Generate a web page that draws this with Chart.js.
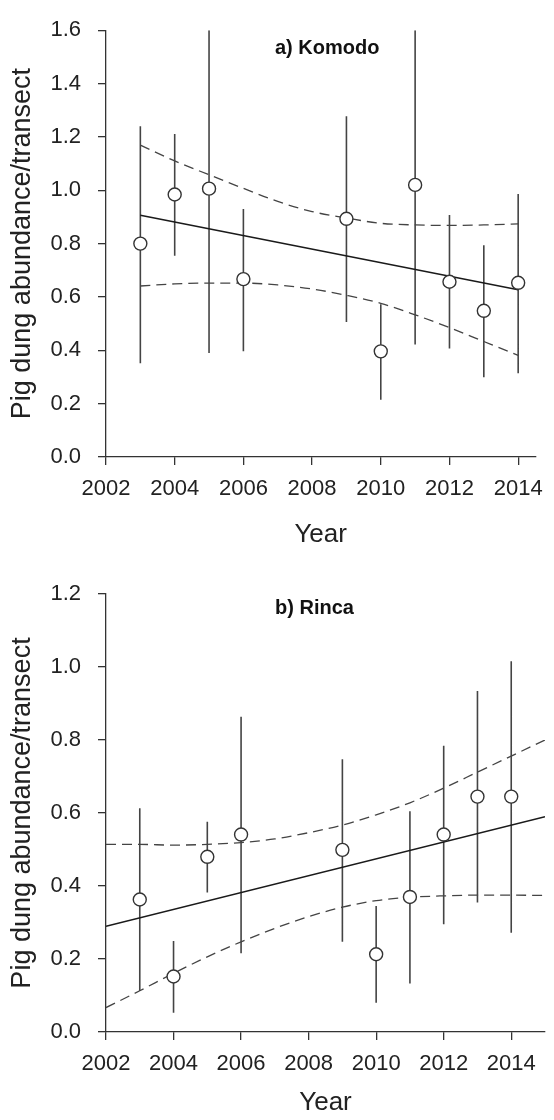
<!DOCTYPE html>
<html>
<head>
<meta charset="utf-8">
<title>Pig dung abundance</title>
<script src="https://cdn.jsdelivr.net/npm/chart.js@4.4.0/dist/chart.umd.min.js"></script>
<style>
  html, body { margin: 0; padding: 0; background: #fff; }
  .panel { position: relative; width: 554px; height: 560px; }
  canvas { display: block; }
</style>
</head>
<body>
<div class="panel"><canvas id="komodoChart" width="554" height="560"></canvas></div>
<div class="panel"><canvas id="rincaChart" width="554" height="560"></canvas></div>
<script>
// 调查年份
const years = [2003, 2004, 2005, 2006, 2009, 2010, 2011, 2012, 2013, 2014];

// a) Komodo
const komodoMean = [0.800, 0.984, 1.006, 0.667, 0.893, 0.396, 1.020, 0.657, 0.548, 0.653];
const komodoLow  = [0.351, 0.754, 0.390, 0.396, 0.506, 0.215, 0.422, 0.407, 0.299, 0.314];
const komodoHigh = [1.240, 1.211, 1.600, 0.930, 1.277, 0.573, 1.600, 0.907, 0.794, 0.986];
const komodoFitYears = [2003, 2014];
const komodoFit = [0.906, 0.627];
const komodoBandYears = [2003, 2004, 2005, 2006, 2007, 2008, 2009, 2010, 2011, 2012, 2013, 2014];
const komodoUpper = [1.169, 1.110, 1.058, 1.007, 0.958, 0.920, 0.896, 0.876, 0.870, 0.868, 0.870, 0.874];
const komodoLower = [0.641, 0.649, 0.652, 0.652, 0.645, 0.630, 0.606, 0.576, 0.533, 0.485, 0.433, 0.381];

// b) Rinca
const rincaMean = [0.363, 0.152, 0.480, 0.541, 0.499, 0.213, 0.370, 0.541, 0.645, 0.645];
const rincaLow  = [0.112, 0.053, 0.382, 0.216, 0.247, 0.080, 0.133, 0.295, 0.355, 0.272];
const rincaHigh = [0.613, 0.249, 0.576, 0.864, 0.747, 0.345, 0.605, 0.784, 0.934, 1.016];
const rincaFitYears = [2002, 2015];
const rincaFit = [0.290, 0.590];
const rincaBandYears = [2002, 2003, 2004, 2005, 2006, 2007, 2008, 2009, 2010, 2011, 2012, 2013, 2014, 2015];
const rincaUpper = [0.514, 0.514, 0.512, 0.514, 0.519, 0.529, 0.546, 0.567, 0.595, 0.628, 0.668, 0.712, 0.756, 0.800];
const rincaLower = [0.067, 0.113, 0.161, 0.206, 0.247, 0.284, 0.316, 0.342, 0.360, 0.369, 0.373, 0.375, 0.375, 0.374];

const FONT = "'Liberation Sans', Arial, Helvetica, sans-serif";
const INK = '#333';

Chart.defaults.font.family = FONT;
Chart.defaults.color = '#222';

/**
 * 面板标题 (a) Komodo / b) Rinca)
 */
const panelLabel = {
    id: 'panelLabel',
    afterDraw(chart, args, opts) {
        const { ctx, chartArea } = chart;
        ctx.save();
        ctx.font = 'bold 20px ' + FONT;
        ctx.fillStyle = '#111';
        ctx.textBaseline = 'middle';
        ctx.textAlign = 'left';
        ctx.fillText(opts.text, chartArea.left + opts.dx, chartArea.top + opts.dy);
        ctx.restore();
    }
};

function xy(xs, ys) {
    return xs.map((x, i) => ({ x: x, y: ys[i] }));
}

// 误差线: 每年一段竖线, 中间用 null 断开
function errorBars(xs, lo, hi) {
    const pts = [];
    xs.forEach((x, i) => {
        pts.push({ x: x, y: lo[i] }, { x: x, y: hi[i] }, { x: x, y: null });
    });
    return pts;
}

/**
 * 画一个面板
 */
function renderPanel(canvasId, p) {
    const ctx = document.getElementById(canvasId).getContext('2d');
    return new Chart(ctx, {
        type: 'scatter',
        data: {
            datasets: [
                {
                    data: xy(years, p.mean),
                    showLine: false,
                    pointRadius: 6.5,
                    pointBackgroundColor: '#fff',
                    pointBorderColor: INK,
                    pointBorderWidth: 1.4,
                    order: 0
                },
                {
                    data: xy(p.fitYears, p.fit),
                    showLine: true,
                    borderColor: '#1a1a1a',
                    borderWidth: 1.5,
                    pointRadius: 0,
                    order: 1
                },
                {
                    data: xy(p.bandYears, p.upper),
                    showLine: true,
                    borderColor: '#444',
                    borderWidth: 1.3,
                    borderDash: [10, 6],
                    cubicInterpolationMode: 'monotone',
                    pointRadius: 0,
                    order: 2
                },
                {
                    data: xy(p.bandYears, p.lower),
                    showLine: true,
                    borderColor: '#444',
                    borderWidth: 1.3,
                    borderDash: [10, 6],
                    cubicInterpolationMode: 'monotone',
                    pointRadius: 0,
                    order: 2
                },
                {
                    data: errorBars(years, p.low, p.high),
                    showLine: true,
                    spanGaps: false,
                    borderColor: '#444',
                    borderWidth: 1.6,
                    pointRadius: 0,
                    order: 3
                }
            ]
        },
        options: {
            responsive: false,
            animation: false,
            events: [],
            layout: { padding: { top: p.top, right: 9, bottom: 0, left: 0 } },
            plugins: {
                legend: { display: false },
                tooltip: { enabled: false },
                panelLabel: { text: p.label, dx: 169, dy: p.labelDy }
            },
            scales: {
                x: {
                    type: 'linear',
                    min: 2002,
                    max: p.xMax,
                    afterFit: (s) => { s.height = p.xHeight; },
                    grid: { display: true, drawOnChartArea: false, drawTicks: true, tickLength: 8, color: INK, lineWidth: 1.3 },
                    border: { display: true, color: INK, width: 1.3 },
                    ticks: {
                        stepSize: 2,
                        includeBounds: false,
                        padding: 11,
                        maxRotation: 0,
                        font: { size: 22 },
                        callback: (v) => String(v)
                    },
                    title: {
                        display: true,
                        text: 'Year',
                        font: { size: 26 },
                        padding: { top: 0, bottom: p.yearPad }
                    }
                },
                y: {
                    min: 0,
                    max: p.yMax,
                    afterFit: (s) => { s.width = 106; },
                    grid: { display: true, drawOnChartArea: false, drawTicks: true, tickLength: 8, color: INK, lineWidth: 1.3 },
                    border: { display: true, color: INK, width: 1.3 },
                    ticks: {
                        stepSize: 0.2,
                        padding: 17,
                        font: { size: 22 },
                        callback: (v) => v.toFixed(1)
                    },
                    title: {
                        display: true,
                        text: 'Pig dung abundance/transect',
                        font: { size: 27 },
                        padding: { top: 6, bottom: 0 }
                    }
                }
            }
        },
        plugins: [panelLabel]
    });
}

renderPanel('komodoChart', {
    label: 'a) Komodo', labelDy: 18,
    mean: komodoMean, low: komodoLow, high: komodoHigh,
    fitYears: komodoFitYears, fit: komodoFit,
    bandYears: komodoBandYears, upper: komodoUpper, lower: komodoLower,
    xMax: 2014.5, yMax: 1.6,
    top: 17, xHeight: 103, yearPad: 10
});

renderPanel('rincaChart', {
    label: 'b) Rinca', labelDy: 14,
    mean: rincaMean, low: rincaLow, high: rincaHigh,
    fitYears: rincaFitYears, fit: rincaFit,
    bandYears: rincaBandYears, upper: rincaUpper, lower: rincaLower,
    xMax: 2015, yMax: 1.2,
    top: 34, xHeight: 88, yearPad: 2
});
</script>
</body>
</html>
